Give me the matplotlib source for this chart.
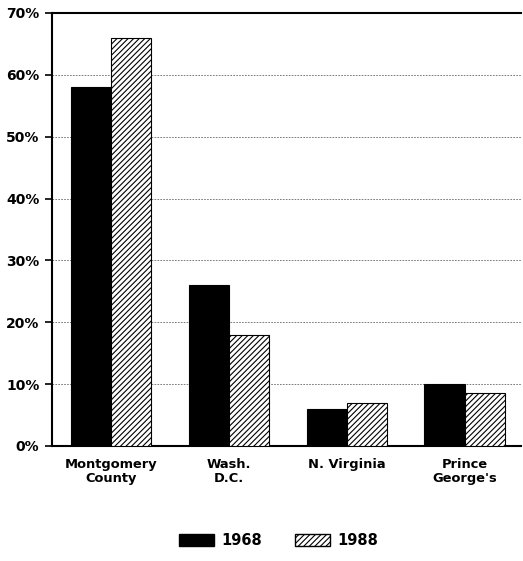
import numpy as np
import matplotlib.pyplot as plt
from matplotlib.patches import Patch

plt.rcParams['font.family'] = ['DejaVu Sans']
plt.rcParams['font.weight'] = 'bold'
plt.rcParams['hatch.linewidth'] = 0.8

categories = ['Montgomery\nCounty', 'Wash.\nD.C.', 'N. Virginia', "Prince\nGeorge's"]
share_1968 = [58, 26, 6, 10]
share_1988 = [66, 18, 7, 8.5]
yticks = [0, 10, 20, 30, 40, 50, 60, 70]

fig = plt.figure(figsize=(5.23, 5.61), dpi=100)
ax = fig.add_axes([0.0994, 0.205, 0.897, 0.772])

x = np.arange(len(categories))
w = 0.34
ax.bar(x - w / 2, share_1968, w, color='black', edgecolor='black', linewidth=0.8, zorder=3)
ax.bar(x + w / 2, share_1988, w, color='white', edgecolor='black', hatch='//////',
       linewidth=0.8, zorder=3)

ax.set_xlim(-0.5, 3.48)
ax.set_ylim(0, 70)
ax.set_yticks(yticks)
ax.set_yticklabels([f'{v}%' for v in yticks], fontsize=10, fontweight='bold')
ax.set_xticks(x)
ax.set_xticklabels(categories, fontsize=9.4, fontweight='bold', linespacing=1.1)
ax.tick_params(axis='x', length=0, pad=9)
ax.tick_params(axis='y', length=5, width=1.2, direction='out', pad=4)
ax.yaxis.grid(True, linestyle=(0, (2, 1.5)), color='#666666', linewidth=0.6, zorder=0)

for s in ['left', 'bottom', 'top']:
    ax.spines[s].set_linewidth(1.5)
ax.spines['right'].set_visible(False)

handles = [Patch(facecolor='black', edgecolor='black'),
           Patch(facecolor='white', edgecolor='black', hatch='//////')]
fig.legend(handles, ['1968', '1988'], loc='center', bbox_to_anchor=(0.533, 0.037),
           ncol=2, frameon=False, fontsize=10.5, handlelength=2.4, handleheight=0.85,
           columnspacing=2.3, handletextpad=0.5)

fig.savefig('out.png', dpi=100)
